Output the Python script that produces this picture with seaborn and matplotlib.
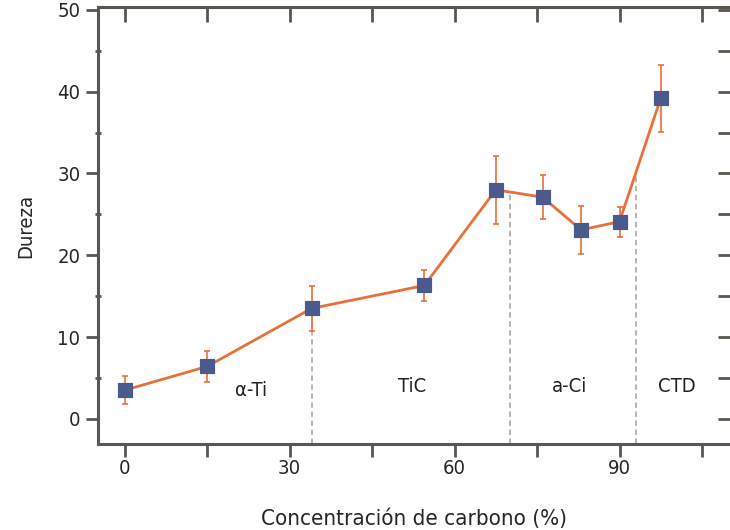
import numpy as np
import pandas as pd
import matplotlib
matplotlib.use("Agg")
import matplotlib.pyplot as plt
import seaborn as sns

# valores
carbono = [0, 15, 34, 54.5, 67.5, 76, 83, 90, 97.5]
dureza = [3.5, 6.4, 13.5, 16.3, 28.0, 27.1, 23.1, 24.1, 39.2]
error = [1.75, 1.85, 2.75, 1.9, 4.15, 2.65, 2.95, 1.85, 4.1]

fronteras = [34, 70, 93]
fases = ["α-Ti", "TiC", "a-Ci", "CTD"]
fases_x = [23, 52.3, 80.9, 100.5]
fases_y = [3.4, 3.9, 3.9, 3.9]

data = pd.DataFrame({"carbono": carbono, "dureza": dureza, "error": error})

sns.set_style("white")
plt.rcParams["font.family"] = ["DejaVu Sans"]
plt.rcParams["font.stretch"] = "condensed"

naranja = "#e8703a"
azul = "#4b5a8c"
gris = "#5a5652"

fig = plt.figure(figsize=(7.3, 5.3), dpi=100)
ax = fig.add_axes([0.134, 0.162, 0.866, 0.824])

# lineas discontinuas de las fronteras entre fases
tops = np.interp(fronteras, carbono, dureza)
ax.vlines(fronteras, -3.1, tops, colors="#b0b0b0", linestyles=(0, (3, 2)), lw=1.3, zorder=1)

sns.lineplot(data=data, x="carbono", y="dureza", color=naranja, lw=2, ax=ax, zorder=2)
ax.errorbar(data["carbono"], data["dureza"], yerr=data["error"], fmt="none",
            ecolor=naranja, elinewidth=1.2, capsize=2.5, capthick=1.2, zorder=3)
sns.scatterplot(data=data, x="carbono", y="dureza", marker="s", s=110, color=azul,
                edgecolor=azul, ax=ax, zorder=4)

for nombre, fx, fy in zip(fases, fases_x, fases_y):
    ax.text(fx, fy, nombre, ha="center", va="center", fontsize=14.5, color="#222222")

ax.set_xlim(-4.9, 110.1)
ax.set_ylim(-3.1, 50.3)
ax.set_xticks([0, 30, 60, 90])
ax.set_xticks([15, 45, 75, 105], minor=True)
ax.set_yticks([0, 10, 20, 30, 40, 50])
ax.set_yticks([5, 15, 25, 35, 45], minor=True)

ax.spines["right"].set_visible(False)
for s in ["left", "bottom", "top"]:
    ax.spines[s].set_color(gris)
    ax.spines[s].set_linewidth(2.2)

ax.tick_params(axis="x", which="both", bottom=True, top=True, direction="in",
               length=8, width=2, color=gris, labelsize=14.5, pad=11)
ax.tick_params(axis="y", which="major", left=True, right=True, length=9, width=2,
               color=gris, labelsize=14.5, direction="out")
ax.tick_params(axis="y", which="minor", left=True, right=True, length=5, width=2,
               color=gris, direction="inout")
for t in ax.yaxis.get_major_ticks() + ax.yaxis.get_minor_ticks():
    t.tick2line.set_marker(matplotlib.lines.TICKLEFT)
    t.tick2line.set_markersize(9)
for t in ax.xaxis.get_major_ticks() + ax.xaxis.get_minor_ticks():
    t.tick1line.set_marker(matplotlib.lines.TICKDOWN)
    t.tick1line.set_markersize(9)
    t.tick2line.set_marker(matplotlib.lines.TICKDOWN)
    t.tick2line.set_markersize(11)

ax.set_xlabel("Concentración de carbono (%)", fontsize=16, labelpad=22)
ax.set_ylabel("Dureza", fontsize=14.5, labelpad=16)

fig.savefig("out.png", dpi=100)
